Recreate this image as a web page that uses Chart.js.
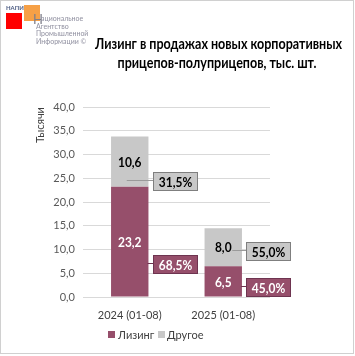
<!DOCTYPE html>
<html><head><meta charset="utf-8">
<script src="https://cdn.jsdelivr.net/npm/chart.js@4"></script>
<style>html,body{margin:0;padding:0;background:#fff}#wrap{width:355px;height:356px;position:relative}</style>
</head><body><div id="wrap"><canvas id="c" width="355" height="356"></canvas></div>
<script>
const categories = ['2024 (01-08)', '2025 (01-08)'];
const leasing = [23.2, 6.5];
const other = [10.6, 8.0];
const leasingShare = [68.5, 45.0];
const otherShare = [31.5, 55.0];
const seriesNames = ['Лизинг', 'Другое'];
const yTicks = [0, 5, 10, 15, 20, 25, 30, 35, 40];
const titleLines = ['Лизинг в продажах новых корпоративных', 'прицепов-полуприцепов, тыс. шт.'];
const yTitle = 'Тысячи';

const PURPLE = '#964f6b', GREY = '#c8c8c8';
const FONT = 'Lato, "Liberation Sans", sans-serif';
const fmt = v => v.toFixed(1).replace('.', ',');

const calloutStyle = [
  { fill: PURPLE, border: '#6e3450', text: '#fff', dy: [23, 6.5], line: '#6e3450' },
  { fill: GREY, border: '#7f7f7f', text: '#000', dy: [20, 4.5], line: '#9a9a9a' }
];

function textSX(ctx, txt, x, y, sx) {
  ctx.save(); ctx.translate(x, y); ctx.scale(sx, 1); ctx.fillText(txt, 0, 0); ctx.restore();
}

const deco = {
  id: 'deco',
  afterDatasetsDraw(chart) {
    const ctx = chart.ctx;
    ctx.save();
    chart.data.datasets.forEach((ds, d) => {
      const meta = chart.getDatasetMeta(d);
      meta.data.forEach((bar, i) => {
        const cy = (bar.y + bar.base) / 2;
        ctx.font = 'bold 13px ' + FONT;
        ctx.fillStyle = d === 0 ? '#fff' : '#000';
        ctx.textAlign = 'center'; ctx.textBaseline = 'middle';
        textSX(ctx, fmt(ds.data[i]), bar.x, cy + 1, 0.92);
        const st = calloutStyle[d];
        const shares = d === 0 ? leasingShare : otherShare;
        const txt = fmt(shares[i]) + '%';
        const bx = Math.round(bar.x + bar.width / 2 + 4.5);
        const by = cy + st.dy[i];
        const tw = ctx.measureText(txt).width * 0.92;
        const w = Math.round(tw + 12), h = 19;
        ctx.strokeStyle = st.line; ctx.lineWidth = 1;
        ctx.beginPath();
        const ly = Math.round(by - 2) + 0.5;
        ctx.moveTo(d === 1 && i === 0 ? bar.x - 3 : (d === 1 ? bar.x + 9 : bar.x + bar.width / 2 - 1), ly);
        ctx.lineTo(bx, ly);
        ctx.stroke();
        ctx.fillStyle = st.fill;
        ctx.fillRect(bx, Math.round(by - h / 2), w, h);
        ctx.strokeStyle = st.border;
        ctx.strokeRect(bx + 0.5, Math.round(by - h / 2) + 0.5, w - 1, h - 1);
        ctx.fillStyle = st.text;
        textSX(ctx, txt, bx + w / 2, by + 1, 0.92);
      });
    });
    ctx.restore();
  },
  afterDraw(chart) {
    const ctx = chart.ctx;
    ctx.save();
    ctx.strokeStyle = '#d0d0d0'; ctx.lineWidth = 1;
    ctx.strokeRect(0.5, 0.5, 353, 353);
    // title, horizontally fitted to the reference width
    ctx.fillStyle = '#000'; ctx.textAlign = 'center'; ctx.textBaseline = 'middle';
    ctx.font = 'bold 14.5px ' + FONT;
    const sx = 247 / ctx.measureText(titleLines[0]).width;
    textSX(ctx, titleLines[0], 218.5, 44, sx);
    textSX(ctx, titleLines[1], 217, 63, sx);
    // y title
    ctx.save();
    ctx.translate(40, 125); ctx.rotate(-Math.PI / 2);
    ctx.font = '11px ' + FONT; ctx.fillStyle = '#404040';
    ctx.fillText(yTitle, 0, 0);
    ctx.restore();
    // legend
    ctx.font = '11px ' + FONT; ctx.textAlign = 'left';
    ctx.fillStyle = PURPLE; ctx.fillRect(108, 331, 7, 7);
    ctx.fillStyle = '#404040'; ctx.fillText(seriesNames[0], 118, 335);
    ctx.fillStyle = GREY; ctx.fillRect(158, 331, 7, 7);
    ctx.fillStyle = '#404040'; ctx.fillText(seriesNames[1], 167, 335);
    // logo
    ctx.fillStyle = '#ff0000'; ctx.fillRect(6, 13, 16, 16);
    ctx.fillStyle = 'rgba(245,150,50,0.9)'; ctx.fillRect(24, 5, 16, 16);
    ctx.fillStyle = '#4a5a80'; ctx.font = 'bold 6px ' + FONT; ctx.textBaseline = 'alphabetic';
    ctx.fillText('НАПИ', 6, 10);
    ctx.fillStyle = '#7f7f8a'; ctx.font = '13px ' + FONT;
    ctx.fillText('Н', 33, 24);
    ctx.fillStyle = '#9090a0'; ctx.font = '7px ' + FONT;
    ctx.fillText('ациональное', 41, 21);
    ctx.fillText('Агентство', 36, 28.5);
    ctx.fillText('Промышленной', 36, 36);
    ctx.fillText('Информации ©', 36, 43.5);
    ctx.restore();
  }
};

new Chart(document.getElementById('c'), {
  type: 'bar',
  data: {
    labels: categories,
    datasets: [
      { label: seriesNames[0], data: leasing, backgroundColor: PURPLE },
      { label: seriesNames[1], data: other, backgroundColor: GREY }
    ]
  },
  options: {
    responsive: false, animation: false,
    devicePixelRatio: 1,
    datasets: { bar: { categoryPercentage: 1, barPercentage: 0.4 } },
    layout: { padding: { left: 0, right: 85, top: 107, bottom: 35 } },
    plugins: { legend: { display: false }, tooltip: { enabled: false }, title: { display: false } },
    scales: {
      x: {
        stacked: true,
        grid: { display: false },
        border: { display: false },
        ticks: { font: { family: FONT, size: 11 }, color: '#404040', padding: 4 },
        afterFit(s) { s.height = 24; }
      },
      y: {
        stacked: true, min: 0, max: 40,
        afterBuildTicks(s) { s.ticks = yTicks.map(v => ({ value: v })); },
        grid: { color: '#d9d9d9', drawTicks: false },
        border: { display: false },
        ticks: { font: { family: FONT, size: 11 }, color: '#595959', padding: 8, callback: v => fmt(v) },
        afterFit(s) { s.width = 83; }
      }
    }
  },
  plugins: [deco]
});
</script></body></html>
